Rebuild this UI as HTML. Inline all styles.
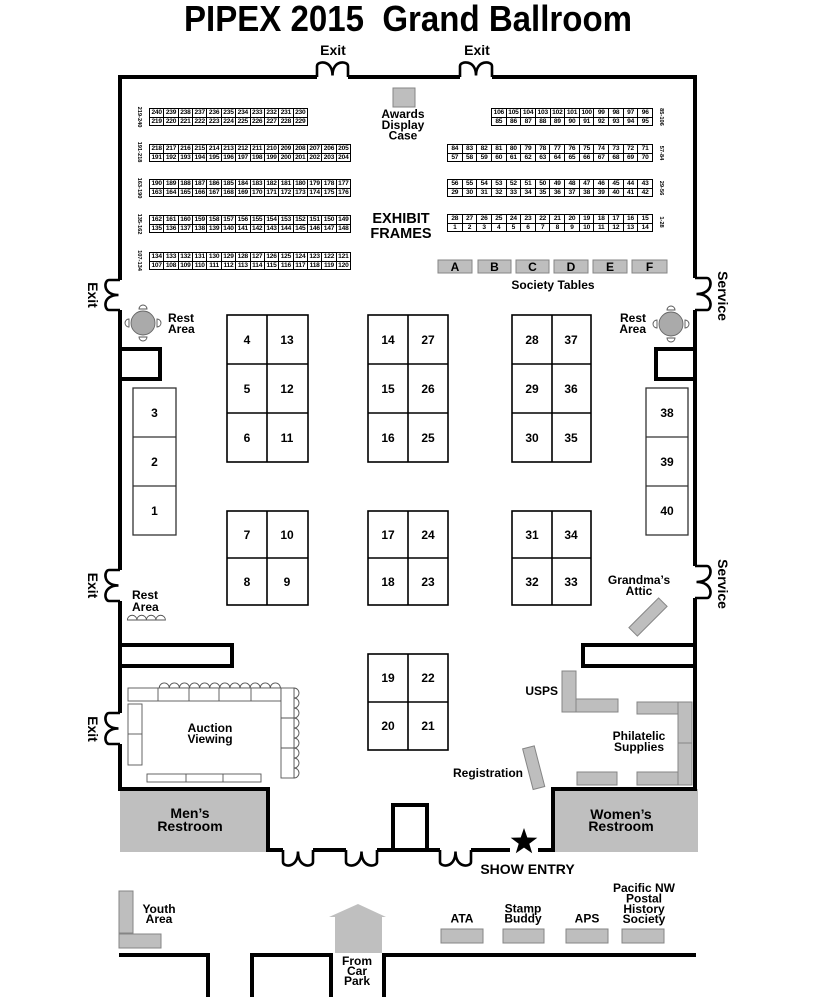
<!DOCTYPE html>
<html><head><meta charset="utf-8">
<style>
html,body{margin:0;padding:0;background:#fff}
#w{position:relative;width:816px;height:997px;overflow:hidden;background:#fff}
svg{position:absolute;left:0;top:0}
.t{font-family:"Liberation Sans",Arial,sans-serif;font-weight:bold;font-size:12px;fill:#000}
.m{text-anchor:middle}
.e{text-anchor:end}
.fr{position:absolute;height:18px;box-sizing:border-box;border:1px solid #000;background:#fff}
.r{display:flex;height:8px}
.r+.r{border-top:1px solid #000;height:7px}
.r i{flex:1 1 0;font:bold 6.6px/8px "Liberation Sans",Arial,sans-serif;font-style:normal;text-align:center;border-left:1px solid #000;overflow:hidden;white-space:nowrap;letter-spacing:-0.2px;color:#000}
.r+.r i{line-height:7px}
.r i:first-child{border-left:0}
</style></head><body><div id="w">
<svg width="816" height="997" viewBox="0 0 816 997" xmlns="http://www.w3.org/2000/svg">
<!-- title -->
<text class="t m" x="408" y="31" style="font-size:36px;white-space:pre" textLength="448" lengthAdjust="spacingAndGlyphs">PIPEX 2015  Grand Ballroom</text>

<!-- restrooms -->
<rect x="120" y="789" width="148" height="63" fill="#bfbfbf"/>
<rect x="553" y="789" width="145" height="63" fill="#bfbfbf"/>

<!-- walls -->
<g fill="none" stroke="#000" stroke-width="4" stroke-linejoin="miter">
<path d="M120,280 V77 H317"/>
<path d="M348,77 H460"/>
<path d="M492,77 H695 V278"/>
<path d="M695,310 V566"/>
<path d="M695,598 V789 H553 V850 H538"/>
<path d="M510,850 H471"/>
<path d="M440,850 H377"/>
<path d="M393,850 V805 H427 V850"/>
<path d="M346,850 H313"/>
<path d="M283,850 H268 V789 H120 V744"/>
<path d="M120,713 V601"/>
<path d="M120,570 V310"/>
<rect x="120" y="349" width="40" height="30" fill="#fff"/>
<rect x="656" y="349" width="39" height="30" fill="#fff"/>
<rect x="120" y="645" width="112" height="21" fill="#fff"/>
<rect x="583" y="645" width="112" height="21" fill="#fff"/>
<path d="M119,955 H208 V997"/>
<path d="M252,997 V955 H331 V997"/>
<path d="M384,997 V955 H696"/>
</g>

<!-- doors -->
<g fill="none" stroke="#000" stroke-width="2.6">
<path d="M317,77 V66 C317,61 332.5,59 332.5,75.5 M348,77 V66 C348,61 332.5,59 332.5,75.5"/>
<path d="M460,77 V66 C460,61 476,59 476,75.5 M492,77 V66 C492,61 476,59 476,75.5"/>
<path d="M120,280 H109 C104,280 102,295 118.5,295 M120,310 H109 C104,310 102,295 118.5,295"/>
<path d="M120,570 H109 C104,570 102,585.5 118.5,585.5 M120,601 H109 C104,601 102,585.5 118.5,585.5"/>
<path d="M120,713 H109 C104,713 102,728.5 118.5,728.5 M120,744 H109 C104,744 102,728.5 118.5,728.5"/>
<path d="M695,278 H707 C712,278 714,294 696.5,294 M695,310 H707 C712,310 714,294 696.5,294"/>
<path d="M695,566 H707 C712,566 714,582 696.5,582 M695,598 H707 C712,598 714,582 696.5,582"/>
<path d="M283,850 V862 C283,867 298,869 298,851.5 M313,850 V862 C313,867 298,869 298,851.5"/>
<path d="M346,850 V862 C346,867 361.5,869 361.5,851.5 M377,850 V862 C377,867 361.5,869 361.5,851.5"/>
<path d="M440,850 V862 C440,867 455.5,869 455.5,851.5 M471,850 V862 C471,867 455.5,869 455.5,851.5"/>
</g>

<!-- star -->
<polygon points="524,828 527.3,837.5 537.3,837.7 529.3,843.7 532.2,853.3 524,847.6 515.8,853.3 518.7,843.7 510.7,837.7 520.7,837.5" fill="#000"/>

<!-- booths -->
<g fill="#fff" stroke="#000" stroke-width="1.6">
<rect x="227" y="315" width="81" height="147"/>
<path d="M267,315 V462 M227,364 H308 M227,413 H308" fill="none"/>
<rect x="227" y="511" width="81" height="94"/>
<path d="M267,511 V605 M227,558 H308" fill="none"/>
<rect x="368" y="315" width="80" height="147"/>
<path d="M408,315 V462 M368,364 H448 M368,413 H448" fill="none"/>
<rect x="368" y="511" width="80" height="94"/>
<path d="M408,511 V605 M368,558 H448" fill="none"/>
<rect x="368" y="654" width="80" height="96"/>
<path d="M408,654 V750 M368,702 H448" fill="none"/>
<rect x="512" y="315" width="79" height="147"/>
<path d="M552,315 V462 M512,364 H591 M512,413 H591" fill="none"/>
<rect x="512" y="511" width="79" height="94"/>
<path d="M552,511 V605 M512,558 H591" fill="none"/>
</g>
<g fill="#fff" stroke="#333" stroke-width="1.3">
<rect x="133" y="388" width="43" height="147"/>
<path d="M133,437 H176 M133,486 H176" fill="none"/>
<rect x="646" y="388" width="42" height="147"/>
<path d="M646,437 H688 M646,486 H688" fill="none"/>
</g>

<!-- booth numbers -->
<g class="t m">
<text class="t m" x="247" y="344">4</text><text class="t m" x="287" y="344">13</text>
<text class="t m" x="247" y="393">5</text><text class="t m" x="287" y="393">12</text>
<text class="t m" x="247" y="442">6</text><text class="t m" x="287" y="442">11</text>
<text class="t m" x="247" y="539">7</text><text class="t m" x="287" y="539">10</text>
<text class="t m" x="247" y="586">8</text><text class="t m" x="287" y="586">9</text>
<text class="t m" x="388" y="344">14</text><text class="t m" x="428" y="344">27</text>
<text class="t m" x="388" y="393">15</text><text class="t m" x="428" y="393">26</text>
<text class="t m" x="388" y="442">16</text><text class="t m" x="428" y="442">25</text>
<text class="t m" x="388" y="539">17</text><text class="t m" x="428" y="539">24</text>
<text class="t m" x="388" y="586">18</text><text class="t m" x="428" y="586">23</text>
<text class="t m" x="388" y="682">19</text><text class="t m" x="428" y="682">22</text>
<text class="t m" x="388" y="730">20</text><text class="t m" x="428" y="730">21</text>
<text class="t m" x="532" y="344">28</text><text class="t m" x="571" y="344">37</text>
<text class="t m" x="532" y="393">29</text><text class="t m" x="571" y="393">36</text>
<text class="t m" x="532" y="442">30</text><text class="t m" x="571" y="442">35</text>
<text class="t m" x="532" y="539">31</text><text class="t m" x="571" y="539">34</text>
<text class="t m" x="532" y="586">32</text><text class="t m" x="571" y="586">33</text>
<text class="t m" x="154.5" y="417">3</text>
<text class="t m" x="154.5" y="466">2</text>
<text class="t m" x="154.5" y="515">1</text>
<text class="t m" x="667" y="417">38</text>
<text class="t m" x="667" y="466">39</text>
<text class="t m" x="667" y="515">40</text>
</g>

<!-- gray tables -->
<g fill="#bebebe" stroke="#858585" stroke-width="1">
<rect x="393" y="88" width="22" height="19"/>
<rect x="438" y="260" width="34" height="13"/>
<rect x="478" y="260" width="33" height="13"/>
<rect x="516" y="260" width="33" height="13"/>
<rect x="554" y="260" width="34" height="13"/>
<rect x="593" y="260" width="34" height="13"/>
<rect x="632" y="260" width="35" height="13"/>
<rect x="-21" y="-6" width="42" height="12" transform="translate(648,617) rotate(-45)"/>
<rect x="562" y="671" width="14" height="41"/>
<rect x="576" y="699" width="42" height="13"/>
<rect x="637" y="702" width="41" height="12"/>
<rect x="678" y="702" width="14" height="41"/>
<rect x="678" y="743" width="14" height="42"/>
<rect x="637" y="772" width="41" height="13"/>
<rect x="577" y="772" width="40" height="13"/>
<rect x="-6" y="-21" width="12" height="42" transform="translate(533.7,767.7) rotate(-14.5)"/>
<rect x="119" y="891" width="14" height="42"/>
<rect x="119" y="934" width="42" height="14"/>
<rect x="441" y="929" width="42" height="14"/>
<rect x="503" y="929" width="41" height="14"/>
<rect x="566" y="929" width="42" height="14"/>
<rect x="622" y="929" width="42" height="14"/>
</g>
<polygon points="329,917 358,904 386,917 382,917 382,953 335,953 335,917" fill="#bfbfbf"/>

<!-- rest area tables & chairs -->
<g fill="#fff" stroke="#555" stroke-width="0.9">
<circle cx="143" cy="323" r="12" fill="#aaa" stroke="#666"/>
<path d="M139,309 A4,4 0 0 1 147,309 Z M139,337 A4,4 0 0 0 147,337 Z M129,319 A4,4 0 0 0 129,327 Z M157,319 A4,4 0 0 1 157,327 Z"/>
<circle cx="671" cy="324" r="12" fill="#aaa" stroke="#666"/>
<path d="M667,310 A4,4 0 0 1 675,310 Z M667,338 A4,4 0 0 0 675,338 Z M657,320 A4,4 0 0 0 657,328 Z M685,320 A4,4 0 0 1 685,328 Z"/>
<path d="M127.4,620 a4.75,4.75 0 0 1 9.5,0 a4.75,4.75 0 0 1 9.5,0 a4.75,4.75 0 0 1 9.5,0 a4.75,4.75 0 0 1 9.5,0 Z"/>
<path d="M159.2,688 a5.05,5.05 0 0 1 10.1,0 a5.05,5.05 0 0 1 10.1,0 a5.05,5.05 0 0 1 10.1,0 a5.05,5.05 0 0 1 10.1,0 a5.05,5.05 0 0 1 10.1,0 a5.05,5.05 0 0 1 10.1,0 a5.05,5.05 0 0 1 10.1,0 a5.05,5.05 0 0 1 10.1,0 a5.05,5.05 0 0 1 10.1,0 a5.05,5.05 0 0 1 10.1,0 a5.05,5.05 0 0 1 10.1,0 a5.05,5.05 0 0 1 10.1,0 Z"/>
<path d="M294,688 a5,5 0 0 1 0,10 a5,5 0 0 1 0,10 a5,5 0 0 1 0,10 a5,5 0 0 1 0,10 a5,5 0 0 1 0,10 a5,5 0 0 1 0,10 a5,5 0 0 1 0,10 a5,5 0 0 1 0,10 a5,5 0 0 1 0,10 Z"/>
<!-- auction tables -->
<rect x="128" y="688" width="153" height="13"/>
<path d="M158,688 V701 M189,688 V701 M219,688 V701 M251,688 V701" fill="none"/>
<rect x="281" y="688" width="13" height="90"/>
<path d="M281,718 H294 M281,748 H294" fill="none"/>
<rect x="128" y="704" width="14" height="61"/>
<path d="M128,734 H142" fill="none"/>
<rect x="147" y="774" width="114" height="8"/>
<path d="M186,774 V782 M223,774 V782" fill="none"/>
</g>

<!-- labels -->
<text class="t m" x="333" y="55" style="font-size:14px">Exit</text>
<text class="t m" x="477" y="55" style="font-size:14px">Exit</text>
<text class="t m" transform="translate(93,295) rotate(90)" x="0" y="5" style="font-size:14px">Exit</text>
<text class="t m" transform="translate(93,585.5) rotate(90)" x="0" y="5" style="font-size:14px">Exit</text>
<text class="t m" transform="translate(93,729) rotate(90)" x="0" y="5" style="font-size:14px">Exit</text>
<text class="t m" transform="translate(723,296) rotate(90)" x="0" y="5" style="font-size:14px">Service</text>
<text class="t m" transform="translate(723,584) rotate(90)" x="0" y="5" style="font-size:14px">Service</text>

<text class="t m" x="403" y="118">Awards</text>
<text class="t m" x="403" y="129">Display</text>
<text class="t m" x="403" y="139.5">Case</text>
<text class="t m" x="401" y="223" style="font-size:14.5px">EXHIBIT</text>
<text class="t m" x="401" y="238" style="font-size:14.5px">FRAMES</text>

<g class="t m">
<text class="t m" x="455" y="271">A</text>
<text class="t m" x="494.5" y="271">B</text>
<text class="t m" x="532.5" y="271">C</text>
<text class="t m" x="571" y="271">D</text>
<text class="t m" x="610" y="271">E</text>
<text class="t m" x="649.5" y="271">F</text>
</g>
<text class="t m" x="553" y="289">Society Tables</text>

<text class="t" x="168" y="322">Rest</text>
<text class="t" x="168" y="333">Area</text>
<text class="t e" x="646" y="322">Rest</text>
<text class="t e" x="646" y="333">Area</text>
<text class="t" x="132" y="599">Rest</text>
<text class="t" x="132" y="611">Area</text>

<text class="t m" x="639" y="584">Grandma’s</text>
<text class="t m" x="639" y="595">Attic</text>
<text class="t m" x="210" y="732">Auction</text>
<text class="t m" x="210" y="743">Viewing</text>
<text class="t e" x="558" y="695">USPS</text>
<text class="t m" x="639" y="740">Philatelic</text>
<text class="t m" x="639" y="751">Supplies</text>
<text class="t e" x="523" y="777">Registration</text>

<text class="t m" x="190" y="818" style="font-size:14px">Men’s</text>
<text class="t m" x="190" y="831" style="font-size:14px">Restroom</text>
<text class="t m" x="621" y="819" style="font-size:14px">Women’s</text>
<text class="t m" x="621" y="831" style="font-size:14px">Restroom</text>
<text class="t m" x="527.5" y="874" style="font-size:14px">SHOW ENTRY</text>

<text class="t m" x="159" y="913">Youth</text>
<text class="t m" x="159" y="923">Area</text>
<text class="t m" x="357" y="965">From</text>
<text class="t m" x="357" y="975">Car</text>
<text class="t m" x="357" y="985">Park</text>
<text class="t m" x="462" y="922.5">ATA</text>
<text class="t m" x="523" y="912.5">Stamp</text>
<text class="t m" x="523" y="922.5">Buddy</text>
<text class="t m" x="587" y="922.5">APS</text>
<text class="t m" x="644" y="892">Pacific NW</text>
<text class="t m" x="644" y="902.5">Postal</text>
<text class="t m" x="644" y="913">History</text>
<text class="t m" x="644" y="923">Society</text>

<!-- frame range labels -->
<g style="font-size:5.7px">
<text class="t m" style="font-size:5.7px" transform="translate(140,117) rotate(90)" x="0" y="2">219-240</text>
<text class="t m" style="font-size:5.7px" transform="translate(140,152) rotate(90)" x="0" y="2">191-218</text>
<text class="t m" style="font-size:5.7px" transform="translate(140,188) rotate(90)" x="0" y="2">163-190</text>
<text class="t m" style="font-size:5.7px" transform="translate(140,224) rotate(90)" x="0" y="2">135-162</text>
<text class="t m" style="font-size:5.7px" transform="translate(140,260.5) rotate(90)" x="0" y="2">107-134</text>
<text class="t m" style="font-size:5.7px" transform="translate(662,117) rotate(90)" x="0" y="2">85-106</text>
<text class="t m" style="font-size:5.7px" transform="translate(662,153) rotate(90)" x="0" y="2">57-84</text>
<text class="t m" style="font-size:5.7px" transform="translate(662,188) rotate(90)" x="0" y="2">29-56</text>
<text class="t m" style="font-size:5.7px" transform="translate(662,222) rotate(90)" x="0" y="2">1-28</text>
</g>
</svg>

<!-- exhibit frames left -->
<div class="fr" style="left:149px;top:108px;width:159px">
<div class="r"><i>240</i><i>239</i><i>238</i><i>237</i><i>236</i><i>235</i><i>234</i><i>233</i><i>232</i><i>231</i><i>230</i></div>
<div class="r"><i>219</i><i>220</i><i>221</i><i>222</i><i>223</i><i>224</i><i>225</i><i>226</i><i>227</i><i>228</i><i>229</i></div>
</div>
<div class="fr" style="left:149px;top:143.5px;width:202px">
<div class="r"><i>218</i><i>217</i><i>216</i><i>215</i><i>214</i><i>213</i><i>212</i><i>211</i><i>210</i><i>209</i><i>208</i><i>207</i><i>206</i><i>205</i></div>
<div class="r"><i>191</i><i>192</i><i>193</i><i>194</i><i>195</i><i>196</i><i>197</i><i>198</i><i>199</i><i>200</i><i>201</i><i>202</i><i>203</i><i>204</i></div>
</div>
<div class="fr" style="left:149px;top:179px;width:202px">
<div class="r"><i>190</i><i>189</i><i>188</i><i>187</i><i>186</i><i>185</i><i>184</i><i>183</i><i>182</i><i>181</i><i>180</i><i>179</i><i>178</i><i>177</i></div>
<div class="r"><i>163</i><i>164</i><i>165</i><i>166</i><i>167</i><i>168</i><i>169</i><i>170</i><i>171</i><i>172</i><i>173</i><i>174</i><i>175</i><i>176</i></div>
</div>
<div class="fr" style="left:149px;top:215px;width:202px">
<div class="r"><i>162</i><i>161</i><i>160</i><i>159</i><i>158</i><i>157</i><i>156</i><i>155</i><i>154</i><i>153</i><i>152</i><i>151</i><i>150</i><i>149</i></div>
<div class="r"><i>135</i><i>136</i><i>137</i><i>138</i><i>139</i><i>140</i><i>141</i><i>142</i><i>143</i><i>144</i><i>145</i><i>146</i><i>147</i><i>148</i></div>
</div>
<div class="fr" style="left:149px;top:251.5px;width:202px">
<div class="r"><i>134</i><i>133</i><i>132</i><i>131</i><i>130</i><i>129</i><i>128</i><i>127</i><i>126</i><i>125</i><i>124</i><i>123</i><i>122</i><i>121</i></div>
<div class="r"><i>107</i><i>108</i><i>109</i><i>110</i><i>111</i><i>112</i><i>113</i><i>114</i><i>115</i><i>116</i><i>117</i><i>118</i><i>119</i><i>120</i></div>
</div>

<!-- exhibit frames right -->
<div class="fr" style="left:491px;top:108px;width:162px">
<div class="r"><i>106</i><i>105</i><i>104</i><i>103</i><i>102</i><i>101</i><i>100</i><i>99</i><i>98</i><i>97</i><i>96</i></div>
<div class="r"><i>85</i><i>86</i><i>87</i><i>88</i><i>89</i><i>90</i><i>91</i><i>92</i><i>93</i><i>94</i><i>95</i></div>
</div>
<div class="fr" style="left:447px;top:144px;width:206px">
<div class="r"><i>84</i><i>83</i><i>82</i><i>81</i><i>80</i><i>79</i><i>78</i><i>77</i><i>76</i><i>75</i><i>74</i><i>73</i><i>72</i><i>71</i></div>
<div class="r"><i>57</i><i>58</i><i>59</i><i>60</i><i>61</i><i>62</i><i>63</i><i>64</i><i>65</i><i>66</i><i>67</i><i>68</i><i>69</i><i>70</i></div>
</div>
<div class="fr" style="left:447px;top:179px;width:206px">
<div class="r"><i>56</i><i>55</i><i>54</i><i>53</i><i>52</i><i>51</i><i>50</i><i>49</i><i>48</i><i>47</i><i>46</i><i>45</i><i>44</i><i>43</i></div>
<div class="r"><i>29</i><i>30</i><i>31</i><i>32</i><i>33</i><i>34</i><i>35</i><i>36</i><i>37</i><i>38</i><i>39</i><i>40</i><i>41</i><i>42</i></div>
</div>
<div class="fr" style="left:447px;top:213.5px;width:206px">
<div class="r"><i>28</i><i>27</i><i>26</i><i>25</i><i>24</i><i>23</i><i>22</i><i>21</i><i>20</i><i>19</i><i>18</i><i>17</i><i>16</i><i>15</i></div>
<div class="r"><i>1</i><i>2</i><i>3</i><i>4</i><i>5</i><i>6</i><i>7</i><i>8</i><i>9</i><i>10</i><i>11</i><i>12</i><i>13</i><i>14</i></div>
</div>
</div></body></html>
